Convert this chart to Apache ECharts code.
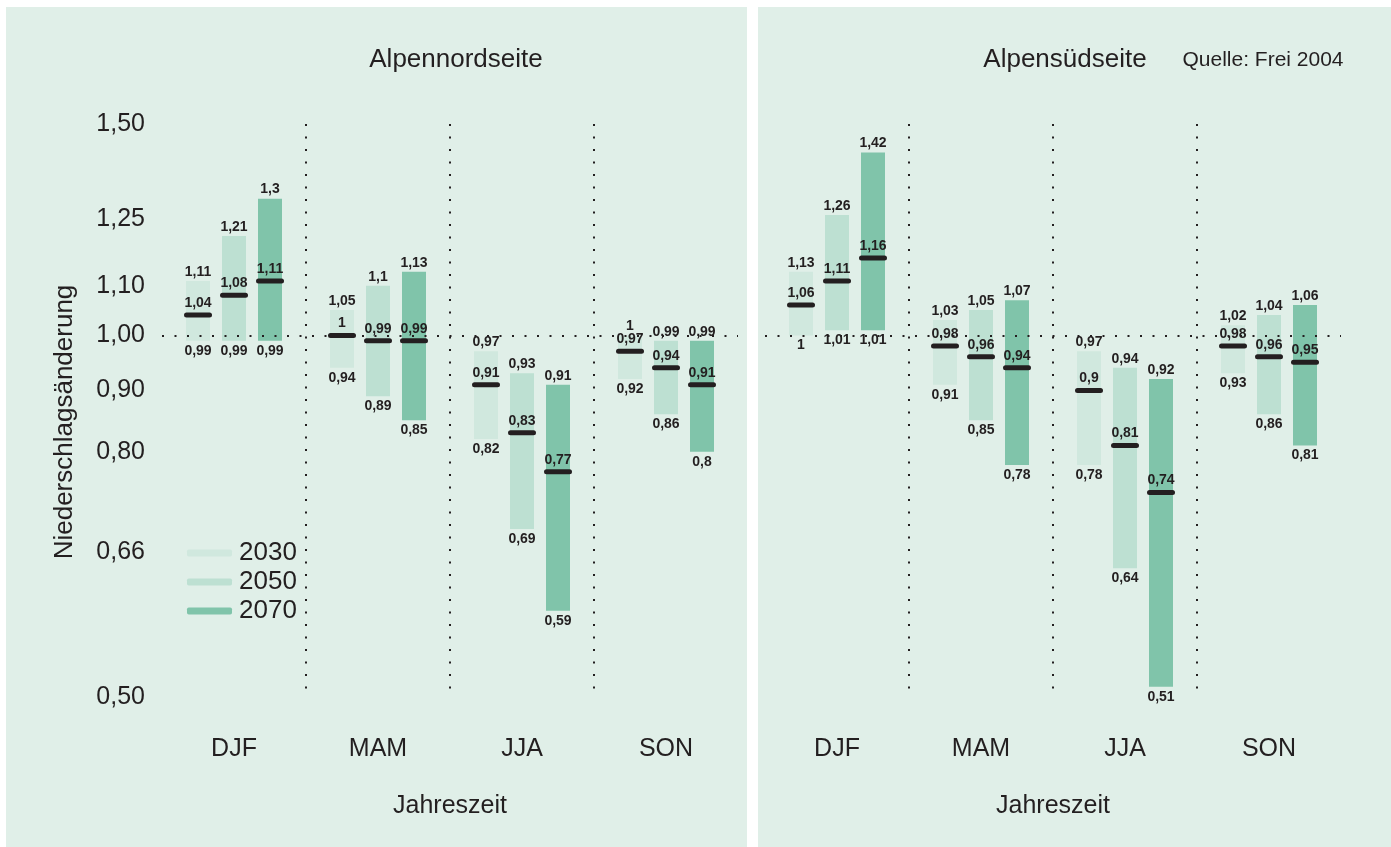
<!DOCTYPE html>
<html>
<head>
<meta charset="utf-8">
<script src="https://cdn.jsdelivr.net/npm/echarts@6/dist/echarts.min.js"></script>
<style>
  html, body { margin: 0; padding: 0; background: #fff; }
  #main { width: 1391px; height: 847px; }
</style>
</head>
<body>
<div id="main"></div>
<script>
// Niederschlagsänderung je Jahreszeit, Szenarien 2030/2050/2070
var categories = ['DJF', 'MAM', 'JJA', 'SON'];
var years = ['2030', '2050', '2070'];
var tickValues = [0.5, 0.66, 0.8, 0.9, 1.0, 1.1, 1.25, 1.5];
var tickLabels = ['0,50', '0,66', '0,80', '0,90', '1,00', '1,10', '1,25', '1,50'];

// [unten, Median, oben] je Jahreszeit
var nord2030 = [[0.99, 1.04, 1.11], [0.94, 1, 1.05], [0.82, 0.91, 0.97], [0.92, 0.97, 1]];
var nord2050 = [[0.99, 1.08, 1.21], [0.89, 0.99, 1.1], [0.69, 0.83, 0.93], [0.86, 0.94, 0.99]];
var nord2070 = [[0.99, 1.11, 1.3], [0.85, 0.99, 1.13], [0.59, 0.77, 0.91], [0.8, 0.91, 0.99]];
var sued2030 = [[1, 1.06, 1.13], [0.91, 0.98, 1.03], [0.78, 0.9, 0.97], [0.93, 0.98, 1.02]];
var sued2050 = [[1.01, 1.11, 1.26], [0.85, 0.96, 1.05], [0.64, 0.81, 0.94], [0.86, 0.96, 1.04]];
var sued2070 = [[1.01, 1.16, 1.42], [0.78, 0.94, 1.07], [0.51, 0.74, 0.92], [0.81, 0.95, 1.06]];

var colors = ['#d0e8de', '#bde0d2', '#80c4aa'];
var textColor = '#231f20';
var fontFam = '"Liberation Sans", Arial, sans-serif';

var myChart = echarts.init(document.getElementById('main'));

function fmt(v) {
    return String(v).replace('.', ',');
}

function toData(arr) {
    return arr.map(function (d, i) {
        return [i, Math.log(d[0]), Math.log(d[1]), Math.log(d[2]), d[0], d[1], d[2]];
    });
}

function makeRender(yearIdx, color) {
    return function (params, api) {
        var c = api.value(0);
        var pLo = api.coord([c, api.value(1)]);
        var pMid = api.coord([c, api.value(2)]);
        var pHi = api.coord([c, api.value(3)]);
        var band = api.size([1, 0])[0];
        var cx = pLo[0] + (yearIdx - 1) * band * 0.25;
        var w = band / 6;
        var font = 'bold 14px ' + fontFam;
        return {
            type: 'group',
            children: [{
                type: 'rect',
                shape: { x: cx - w / 2, y: pHi[1], width: w, height: pLo[1] - pHi[1] },
                style: { fill: color }
            }, {
                type: 'rect',
                shape: { x: cx - 14, y: pMid[1] - 2.5, width: 28, height: 5, r: 2.5 },
                style: { fill: textColor }
            }, {
                type: 'text',
                style: { text: fmt(api.value(6)), x: cx, y: pHi[1] - 9, align: 'center', verticalAlign: 'middle', font: font, fill: textColor }
            }, {
                type: 'text',
                style: { text: fmt(api.value(5)), x: cx, y: pMid[1] - 12, align: 'center', verticalAlign: 'middle', font: font, fill: textColor }
            }, {
                type: 'text',
                style: { text: fmt(api.value(4)), x: cx, y: pLo[1] + 10, align: 'center', verticalAlign: 'middle', font: font, fill: textColor }
            }]
        };
    };
}

var dotted = { type: [2, 10.5], color: textColor, width: 2 };

function xAxisFor(idx) {
    return {
        type: 'category',
        gridIndex: idx,
        data: categories,
        axisLine: { show: false },
        axisTick: { show: false },
        axisLabel: { color: textColor, fontSize: 25, fontFamily: fontFam, margin: 40 },
        splitLine: { show: true, showMinLine: false, showMaxLine: false, lineStyle: dotted },
        name: 'Jahreszeit',
        nameLocation: 'middle',
        nameGap: 97,
        nameTextStyle: { color: textColor, fontSize: 25, fontFamily: fontFam }
    };
}

function yAxisFor(idx) {
    return {
        type: 'value',
        gridIndex: idx,
        min: Math.log(0.5),
        max: Math.log(1.5),
        axisLine: { show: false },
        axisTick: { show: false },
        splitLine: { show: false },
        axisLabel: {
            show: idx === 0,
            customValues: tickValues.map(function (v) { return Math.log(v); }),
            color: textColor,
            fontSize: 25,
            fontFamily: fontFam,
            margin: 17,
            formatter: function (v) {
                var best = 0;
                for (var i = 0; i < tickValues.length; i++) {
                    if (Math.abs(Math.log(tickValues[i]) - v) < Math.abs(Math.log(tickValues[best]) - v)) best = i;
                }
                return tickLabels[best];
            }
        }
    };
}

var panels = [[nord2030, nord2050, nord2070], [sued2030, sued2050, sued2070]];
var series = [];
panels.forEach(function (p, gi) {
    p.forEach(function (arr, yi) {
        var s = {
            name: years[yi],
            type: 'custom',
            xAxisIndex: gi,
            yAxisIndex: gi,
            itemStyle: { color: colors[yi] },
            renderItem: makeRender(yi, colors[yi]),
            encode: { x: 0, y: [1, 2, 3] },
            data: toData(arr),
            silent: true
        };
        if (yi === 0) {
            s.markLine = {
                silent: true,
                symbol: 'none',
                label: { show: false },
                lineStyle: dotted,
                data: [{ yAxis: 0 }]
            };
        }
        series.push(s);
    });
});

option = {
    backgroundColor: '#ffffff',
    animation: false,
    textStyle: { fontFamily: fontFam },
    graphic: [
        { type: 'rect', z: -10, shape: { x: 6, y: 7, width: 741, height: 840 }, style: { fill: '#e0efe8' } },
        { type: 'rect', z: -10, shape: { x: 758, y: 7, width: 633, height: 840 }, style: { fill: '#e0efe8' } },
        { type: 'text', x: 456, y: 60, style: { text: 'Alpennordseite', align: 'center', verticalAlign: 'middle', font: '26px ' + fontFam, fill: textColor } },
        { type: 'text', x: 1065, y: 60, style: { text: 'Alpensüdseite', align: 'center', verticalAlign: 'middle', font: '26px ' + fontFam, fill: textColor } },
        { type: 'text', x: 1263, y: 60, style: { text: 'Quelle: Frei 2004', align: 'center', verticalAlign: 'middle', font: '21px ' + fontFam, fill: textColor } },
        { type: 'text', x: 65, y: 422, rotation: Math.PI / 2, style: { text: 'Niederschlagsänderung', align: 'center', verticalAlign: 'middle', font: '26px ' + fontFam, fill: textColor } }
    ],
    legend: {
        data: years,
        orient: 'vertical',
        left: 182,
        top: 535,
        icon: 'roundRect',
        itemWidth: 45,
        itemHeight: 7,
        itemGap: 3,
        selectedMode: false,
        textStyle: { color: textColor, fontSize: 26, fontFamily: fontFam, lineHeight: 26, padding: [0, 0, 0, 2] }
    },
    grid: [
        { left: 162, top: 124, width: 576, height: 573 },
        { left: 765, top: 124, width: 576, height: 573 }
    ],
    xAxis: [xAxisFor(0), xAxisFor(1)],
    yAxis: [yAxisFor(0), yAxisFor(1)],
    series: series
};

myChart.setOption(option);
</script>
</body>
</html>
